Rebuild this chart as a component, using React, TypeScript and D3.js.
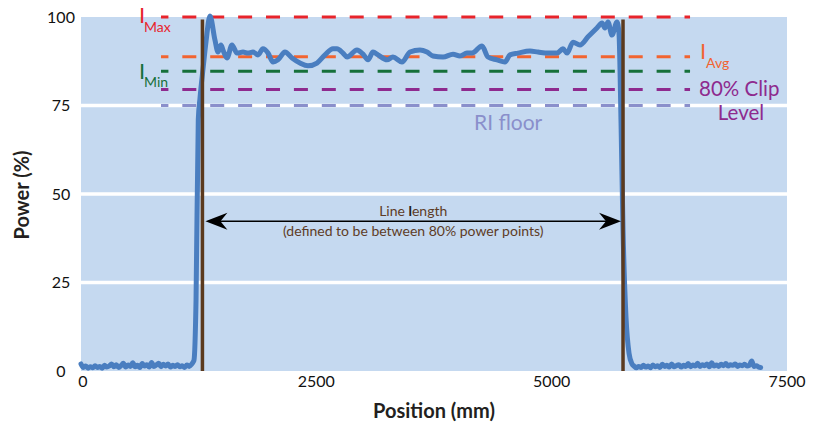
import React from "react";
import * as d3 from "d3";

// ---- data ----
const xTicks = [0, 2500, 5000, 7500];
const yTicks = [0, 25, 50, 75, 100];
const gridValues = [25, 50, 75];

// background noise before the line (mm, %)
const leadMm = [
  0, 25, 50, 75, 100, 125, 150, 175, 200, 225, 250, 275, 300, 325, 350, 375, 400, 425, 450, 475, 500, 525, 550, 575,
  600, 625, 650, 675, 700, 725, 750, 775, 800, 825, 850, 875, 900, 925, 950, 975, 1000, 1025, 1050, 1075, 1100, 1125, 1150, 1175, 1190,
];
const leadPct = [
  2.0, 1.0, 1.4, 0.8, 1.2, 0.9, 1.5, 1.0, 1.3, 0.8, 1.6, 1.1, 1.4, 2.0, 1.2, 1.8, 1.0, 1.5, 2.2, 1.1, 1.7, 1.3, 2.3, 1.2,
  1.6, 1.0, 2.1, 1.4, 1.8, 1.1, 2.4, 1.3, 1.7, 2.2, 1.2, 1.9, 1.4, 2.0, 1.1, 1.6, 1.3, 1.8, 1.2, 1.5, 1.0, 1.7, 1.3, 1.9, 2.5,
];

// laser line profile (mm, %)
const lineMm = [
  1200, 1222, 1246, 1264, 1299, 1328, 1370,
  1423, 1455, 1487, 1508, 1551, 1604, 1657, 1721, 1774, 1827, 1880, 1933, 1987, 2040, 2093, 2167, 2242, 2326, 2411, 2507, 2592, 2677,
  2719, 2783, 2826, 2932, 2996, 3049, 3102, 3155, 3251, 3314, 3410, 3495, 3601, 3676, 3739, 3846, 3952, 4026, 4100,
  4154, 4260, 4323, 4419, 4504, 4557, 4642, 4770, 4855, 4961, 5057, 5120, 5163, 5227, 5301, 5386, 5481, 5535, 5566, 5598, 5641, 5694, 5715,
  5737, 5758, 5790, 5822, 5853,
];
const linePct = [
  3, 20, 71, 77, 86, 93, 100.3,
  93.5, 90.1, 92.1, 90.7, 88.4, 92.1, 89.8, 90.1, 89.8, 90.1, 89.3, 91, 89.8, 87.3, 87.9, 90.1, 88.4, 87, 86.2, 87, 89.3, 91,
  91, 89.8, 88.7, 90.7, 89.5, 87.9, 90.1, 89.3, 87.9, 88.7, 87.3, 90.1, 90.7, 90.1, 89, 88.7, 89.5, 89, 89.8,
  89.8, 91.8, 88.7, 87.9, 87.3, 89.3, 89.8, 90.4, 90.1, 89.8, 89.8, 91, 89.8, 92.9, 92.1, 94.4, 96.9, 98.3, 96.9, 98.6, 94.9, 98.6, 95.5,
  70, 40, 15, 5, 2,
];

// background noise after the line (mm, %)
const trailMm = [
  5875, 5900, 5925, 5950, 5975, 6000, 6025, 6050, 6075, 6100, 6125, 6150, 6175, 6200, 6225, 6250, 6275, 6300, 6325, 6350,
  6375, 6400, 6425, 6450, 6475, 6500, 6525, 6550, 6575, 6600, 6625, 6650, 6675, 6700, 6725, 6750, 6775, 6800, 6825, 6850,
  6875, 6900, 6925, 6950, 6975, 7000, 7025, 7050, 7075, 7100, 7125, 7150, 7175, 7200, 7220,
];
const trailPct = [
  1.4, 0.9, 1.3, 1.0, 1.6, 1.1, 1.4, 0.9, 1.7, 1.2, 1.5, 1.0, 1.9, 1.3, 1.6, 1.1, 2.0, 1.2, 1.5, 1.8,
  1.1, 1.6, 1.3, 2.1, 1.2, 1.7, 1.4, 2.2, 1.3, 1.8, 1.5, 2.0, 1.2, 2.3, 1.4, 1.7, 1.3, 1.9, 1.5, 2.1,
  1.4, 1.8, 1.6, 2.0, 1.3, 1.7, 1.5, 1.9, 1.4, 1.6, 2.8, 1.3, 1.5, 1.1, 1.0,
];

const levelNames = ["IMax", "IAvg", "IMin", "Clip", "RI"];
const levelValues = [100, 88.8, 84.7, 79.5, 75];
const levelColors = ["#E8242B", "#F26430", "#16703A", "#8E2A8E", "#8A8FCB"];
const levelStartMm = 850;
const levelEndMm = 6470;

const pointsMm = [1290, 5758]; // 80% power points
const pointsTopPct = 99.3;

// ---- layout ----
const W = 816;
const H = 427;
const plotL = 81;
const plotR = 787;
const plotT = 17;
const plotB = 371;
const FONT = "Lato, 'Noto Sans', sans-serif";

export default function App() {
  const x = d3.scaleLinear().domain([0, 7500]).range([plotL, plotR]);
  const y = d3.scaleLinear().domain([0, 100]).range([plotB, plotT]);

  const allMm = [...leadMm, ...lineMm, ...trailMm];
  const allPct = [...leadPct, ...linePct, ...trailPct];
  const pts: [number, number][] = allMm.map((m, i) => [m, allPct[i]]);
  const line = d3
    .line<[number, number]>()
    .x((d) => x(d[0]))
    .y((d) => y(d[1]))
    .curve(d3.curveMonotoneX);

  const arrowY = 221.3;
  const aL = x(pointsMm[0]) + 3;
  const aR = x(pointsMm[1]) - 2;
  const midX = (aL + aR) / 2;

  const brown = "#5B3A1E";
  const textBrown = "#5E3C26";

  return (
    <div style={{ position: "fixed", left: 0, top: 0 }}>
      <svg width={W} height={H} style={{ display: "block", background: "#fff" }}>
        {/* plot background */}
        <rect x={plotL} y={plotT} width={plotR - plotL} height={plotB - plotT} fill="#C5D9F0" />
        {/* grid */}
        {gridValues.map((g) => (
          <line key={g} x1={plotL} x2={plotR} y1={y(g)} y2={y(g)} stroke="#fff" strokeWidth={3.5} />
        ))}

        {/* dashed level lines */}
        {levelValues.map((v, i) => (
          <line
            key={levelNames[i]}
            x1={x(levelStartMm)}
            x2={x(levelEndMm)}
            y1={y(v)}
            y2={y(v)}
            stroke={levelColors[i]}
            strokeWidth={3}
            strokeDasharray="14 13.9"
            strokeDashoffset={6.6}
          />
        ))}

        {/* profile */}
        <path d={line(pts) || ""} fill="none" stroke="#4A7EC0" strokeWidth={5} strokeLinejoin="round" strokeLinecap="round" />

        {/* 80% power point lines */}
        {pointsMm.map((m) => (
          <line key={m} x1={x(m)} x2={x(m)} y1={y(pointsTopPct)} y2={y(0)} stroke={brown} strokeWidth={3.5} />
        ))}

        {/* arrow */}
        <line x1={aL + 10} x2={aR - 10} y1={arrowY} y2={arrowY} stroke="#000" strokeWidth={1.6} />
        <path
          d={`M${aL},${arrowY} L${aL + 22},${arrowY - 8.5} L${aL + 15},${arrowY} L${aL + 22},${arrowY + 8.5} Z`}
          fill="#000"
        />
        <path
          d={`M${aR},${arrowY} L${aR - 22},${arrowY - 8.5} L${aR - 15},${arrowY} L${aR - 22},${arrowY + 8.5} Z`}
          fill="#000"
        />
        <text x={midX} y={215.6} textAnchor="middle" fontFamily={FONT} fontSize={14} fill={textBrown}>
          Line <tspan fill="#231F20" fontWeight="bold">l</tspan>ength
        </text>
        <text x={midX} y={236} textAnchor="middle" fontFamily={FONT} fontSize={14} fill={textBrown}>
          (defined to be between 80% power points)
        </text>

        {/* level labels */}
        <text x={139} y={23} fontFamily={FONT} fontSize={22} fill={levelColors[0]}>I</text>
        <text x={144} y={31.5} fontFamily={FONT} fontSize={14} fill={levelColors[0]}>Max</text>
        <text x={139} y={79} fontFamily={FONT} fontSize={22} fill={levelColors[2]}>I</text>
        <text x={144} y={87} fontFamily={FONT} fontSize={14} fill={levelColors[2]}>Min</text>
        <text x={700} y={59} fontFamily={FONT} fontSize={22} fill={levelColors[1]}>I</text>
        <text x={706} y={68} fontFamily={FONT} fontSize={14} fill={levelColors[1]}>Avg</text>
        <text x={699} y={96} fontFamily={FONT} fontSize={20.5} fill={levelColors[3]}>80% Clip</text>
        <text x={741} y={120} textAnchor="middle" fontFamily={FONT} fontSize={20.5} fill={levelColors[3]}>Level</text>
        <text x={474} y={130} fontFamily={FONT} fontSize={21} fill={levelColors[4]}>RI floor</text>

        {/* y tick labels */}
        {yTicks.map((t) => (
          <text key={t} x={61} y={y(t)} dy="0.35em" textAnchor="middle" fontFamily={FONT} fontSize={16} fill="#111">
            {t}
          </text>
        ))}
        {/* x tick labels */}
        {xTicks.map((t) => (
          <text key={t} x={x(t) + (t === 0 ? 2 : 0)} y={387} textAnchor="middle" fontFamily={FONT} fontSize={16} fill="#111">
            {t}
          </text>
        ))}

        {/* axis titles */}
        <text x={434} y={418} textAnchor="middle" fontFamily={FONT} fontSize={20} fontWeight="bold" fill="#231F20">
          Position (mm)
        </text>
        <text
          transform={`translate(29,195) rotate(-90)`}
          textAnchor="middle"
          fontFamily={FONT}
          fontSize={20}
          fontWeight="bold"
          fill="#231F20"
        >
          Power (%)
        </text>
      </svg>
    </div>
  );
}
